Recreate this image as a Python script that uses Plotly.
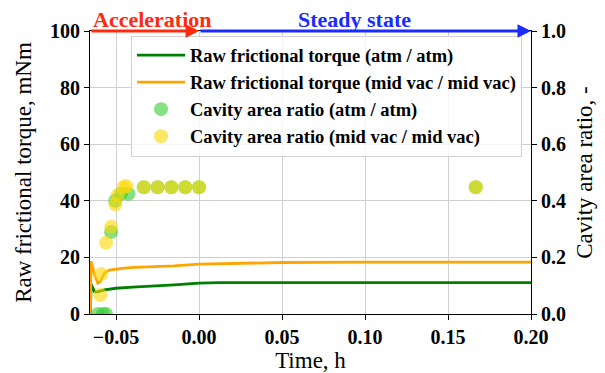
import plotly.graph_objects as go

# ---- data ----
t_atm = [-0.0655, -0.0650, -0.063, -0.061, -0.057, -0.050, -0.040, -0.027, -0.015, 0.0, 0.0123, 0.05, 0.10, 0.15, 0.20]
torque_atm = [0.0, 10.5, 7.9, 7.8, 8.5, 9.1, 9.5, 9.8, 10.3, 10.9, 11.1, 11.1, 11.2, 11.1, 11.1]

t_vac = [-0.0655, -0.0650, -0.063, -0.0615, -0.061, -0.0595, -0.057, -0.054, -0.050, -0.045, -0.039, -0.027, -0.015, 0.0, 0.0123, 0.03, 0.05, 0.10, 0.15, 0.20]
torque_vac = [0.0, 18.6, 14.0, 11.5, 10.9, 11.5, 14.5, 15.5, 15.9, 16.2, 16.5, 16.7, 17.0, 17.6, 17.8, 18.0, 18.2, 18.3, 18.3, 18.3]

t_cav_atm = [-0.061, -0.058, -0.056, -0.053, -0.0505, -0.047, -0.0425, -0.0333, -0.025, -0.0167, -0.0083, 0.0, 0.1667]
cav_atm = [0.0, 0.0, 0.0, 0.29, 0.40, 0.425, 0.425, 0.448, 0.448, 0.448, 0.448, 0.448, 0.448]

t_cav_vac = [-0.0595, -0.059, -0.056, -0.053, -0.0504, -0.049, -0.0454, -0.0439, -0.0333, -0.025, -0.0167, -0.0083, 0.0, 0.1667]
cav_vac = [0.067, 0.141, 0.252, 0.308, 0.388, 0.42, 0.448, 0.452, 0.448, 0.448, 0.448, 0.448, 0.448, 0.448]

x_ticks = [-0.05, 0.0, 0.05, 0.10, 0.15, 0.20]
y_ticks = [0, 20, 40, 60, 80, 100]
y2_ticks = [0.0, 0.2, 0.4, 0.6, 0.8, 1.0]
x_range = [-0.0657, 0.20]

F = "Liberation Serif"

fig = go.Figure()
fig.add_trace(go.Scatter(x=t_atm, y=torque_atm, mode="lines", name="Raw frictional torque (atm / atm)",
                         line=dict(color="green", width=2.8)))
fig.add_trace(go.Scatter(x=t_vac, y=torque_vac, mode="lines", name="Raw frictional torque (mid vac / mid vac)",
                         line=dict(color="orange", width=2.8)))
fig.add_trace(go.Scatter(x=t_cav_atm, y=cav_atm, mode="markers", name="Cavity area ratio (atm / atm)",
                         yaxis="y2", marker=dict(color="limegreen", size=14, opacity=0.6, line=dict(width=0))))
fig.add_trace(go.Scatter(x=t_cav_vac, y=cav_vac, mode="markers", name="Cavity area ratio (mid vac / mid vac)",
                         yaxis="y2", marker=dict(color="gold", size=14, opacity=0.6, line=dict(width=0))))

tickfont = dict(family=F, size=20, color="black", weight="bold")
titlefont = dict(family=F, size=23, color="black")

fig.update_layout(
    width=605, height=373,
    margin=dict(l=90, r=74, t=31, b=59),
    paper_bgcolor="white", plot_bgcolor="white",
    showlegend=True,
    legend=dict(x=0.093, y=0.984, xanchor="left", yanchor="top",
                bgcolor="rgba(255,255,255,0.8)", bordercolor="#d0d0d0", borderwidth=1,
                font=dict(family=F, size=18.5, color="black", weight="bold"),
                tracegroupgap=0, itemwidth=48),
    xaxis=dict(range=x_range, tickvals=x_ticks, tickformat=".2f", showgrid=True, gridcolor="#d0d0d0",
               zeroline=False, showline=True, linecolor="black", linewidth=1, mirror=True, automargin=False,
               ticks="outside", ticklen=5, tickcolor="black", tickfont=tickfont,
               title=dict(text="Time, h", font=titlefont, standoff=1)),
    yaxis=dict(range=[0, 100], tickvals=y_ticks, showgrid=True, gridcolor="#d0d0d0", zeroline=False, automargin=False,
               showline=True, linecolor="black", linewidth=1, ticks="outside", ticklen=5, tickcolor="black",
               tickfont=tickfont, title=dict(text="Raw frictional torque, mNm", font=titlefont, standoff=11)),
    yaxis2=dict(range=[0, 1.0], tickvals=y2_ticks, tickformat=".1f", overlaying="y", side="right", automargin=False,
                showgrid=False, zeroline=False, showline=True, linecolor="black", linewidth=1,
                ticks="outside", ticklen=5, tickcolor="black", tickfont=tickfont,
                title=dict(text="Cavity area ratio, -", font=titlefont, standoff=10)),
)

# phase arrows along the top
fig.add_annotation(x=0.0, y=100, ax=x_range[0], ay=100, xref="x", yref="y", axref="x", ayref="y",
                   text="", showarrow=True, arrowhead=2, arrowsize=0.9, arrowwidth=3, arrowcolor="#ff2a10")
fig.add_annotation(x=x_range[1], y=100, ax=0.0, ay=100, xref="x", yref="y", axref="x", ayref="y",
                   text="", showarrow=True, arrowhead=2, arrowsize=0.9, arrowwidth=3, arrowcolor="#1a2cff")
fig.add_annotation(x=-0.0281, y=1.042, xref="x", yref="paper", text="Acceleration", showarrow=False,
                   yanchor="middle", font=dict(family=F, size=22, color="#ff2a10", weight="bold"))
fig.add_annotation(x=0.0936, y=1.042, xref="x", yref="paper", text="Steady state", showarrow=False,
                   yanchor="middle", font=dict(family=F, size=22, color="#1a2cff", weight="bold"))

fig.write_html("out.html", config={"displayModeBar": False},
               post_script="document.body.style.margin='0px';")
